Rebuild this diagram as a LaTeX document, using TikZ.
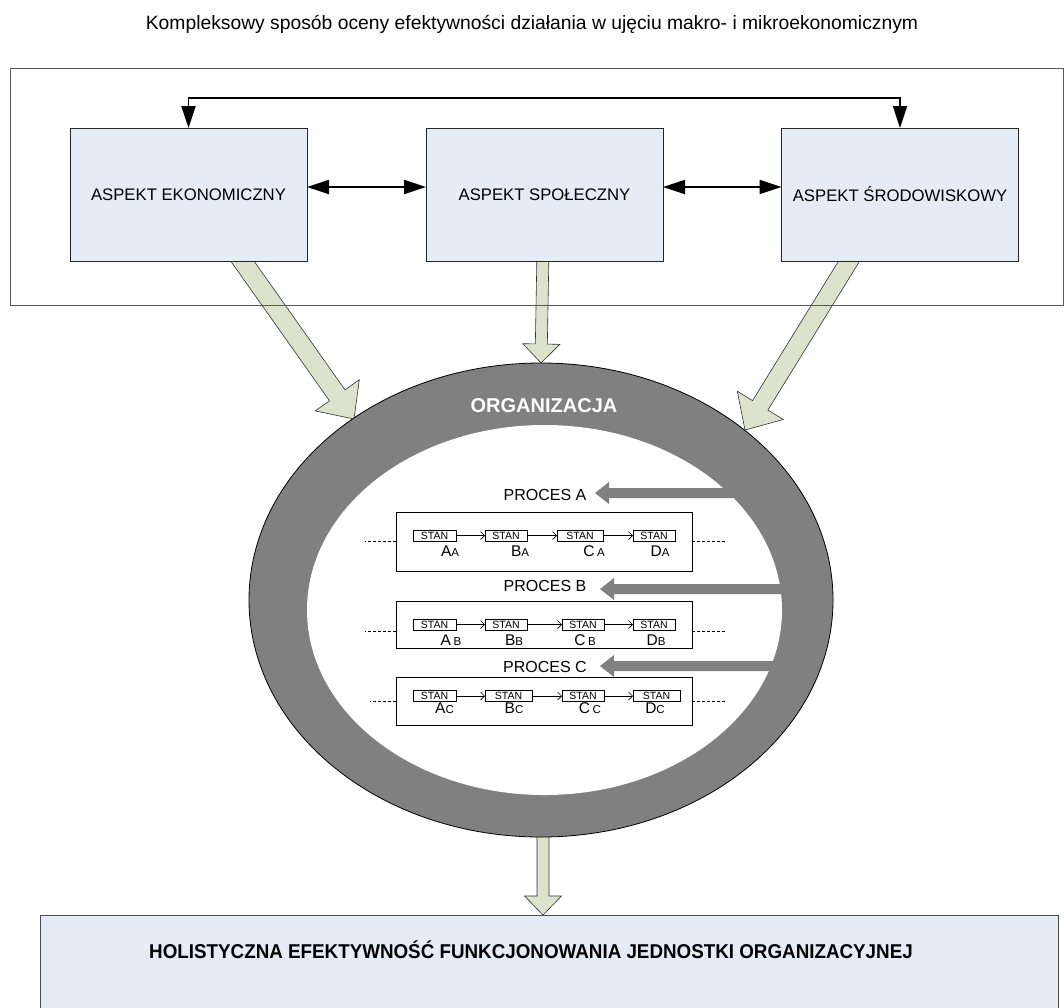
\documentclass[tikz,border=0pt]{standalone}
\usepackage{fontspec}
\setmainfont{Liberation Sans}
\usetikzlibrary{calc,arrows.meta,shapes.geometric}
\pgfdeclarelayer{bg}
\pgfsetlayers{bg,main}
\definecolor{aspfill}{RGB}{229,236,246}
\definecolor{blkfill}{RGB}{221,226,205}
\definecolor{ringgray}{RGB}{128,128,128}
\newcommand\myfs[1]{\fontsize{#1pt}{#1pt}\selectfont}
\newcommand\blockarr[6]{%
  \coordinate (bah) at ($(#3)!#6!(#2)$);
  \path[#1] ($(#2)!#4!90:(#3)$) -- ($(bah)!#4!90:(#3)$) -- ($(bah)!#5!90:(#3)$) -- (#3)
    -- ($(bah)!#5!-90:(#3)$) -- ($(bah)!#4!-90:(#3)$) -- ($(#2)!#4!-90:(#3)$) -- cycle;
}
\tikzset{
  aspect/.style={draw=black!85, line width=0.9pt, fill=aspfill, minimum width=237pt, minimum height=133pt, font=\myfs{16.7}},
  biarrow/.style={line width=1.8pt, {Triangle[length=22pt,width=14pt]}-{Triangle[length=22pt,width=14pt]}},
  greenarr/.style={draw=black!80, line width=0.6pt, fill=blkfill, line join=miter},
  grayarr/.style={fill=ringgray},
  procbox/.style={draw=black, line width=0.9pt, minimum width=296pt},
  stanbox/.style={draw=black, line width=0.8pt, fill=white, minimum height=11pt, font=\myfs{10.5}},
  stanlink/.style={line width=0.7pt, -{Straight Barb[length=4pt,width=8pt]}},
  lbl/.style={font=\myfs{15.5}},
  proclbl/.style={font=\myfs{16}},
  dash line/.style={dash pattern=on 3pt off 2pt, line width=0.7pt},
}
\newcommand\sub[1]{{\myfs{11.5}#1}}
\begin{document}
\begin{tikzpicture}[x=1pt,y=-1pt, every node/.style={inner sep=0pt, outer sep=0pt}]
\useasboundingbox (0,0) rectangle (1064,1007);

\node[font=\myfs{19.3}] (title) at (532,24) {Kompleksowy sposób oceny efektywności działania w ujęciu makro- i mikroekonomicznym};

% top frame
\draw[black!65, line width=0.9pt] (10.5,68.5) rectangle (1063,305);

% aspect boxes
\node[aspect] (eko) at (188.5,194.5) {ASPEKT EKONOMICZNY};
\node[aspect] (spo) at (544.5,194.5) {ASPEKT SPOŁECZNY};
\node[aspect] (sro) at (900,194.5) {ASPEKT ŚRODOWISKOWY};

\draw[biarrow] (eko.north) -- ++(0,-30) -| (sro.north);
\draw[biarrow] ([yshift=7.5pt]eko.east) -- ([yshift=7.5pt]spo.west);
\draw[biarrow] ([yshift=7.5pt]spo.east) -- ([yshift=7.5pt]sro.west);

% organisation ring
\node[ellipse, draw=black, line width=0.8pt, fill=ringgray, minimum width=584pt, minimum height=474pt] (org) at (541,600) {};
\node[ellipse, fill=white, minimum width=475pt, minimum height=370pt] (orgin) at (544.5,610) {};
\node[font=\myfs{20}\bfseries, text=white] (orglbl) at (544,406) {ORGANIZACJA};

% gray process arrows
\coordinate (ga0) at (790,493); \coordinate (ga1) at (595,493);
\blockarr{grayarr}{ga0}{ga1}{5pt}{11pt}{14pt}
\coordinate (gb0) at (800,589); \coordinate (gb1) at (600,589);
\blockarr{grayarr}{gb0}{gb1}{5pt}{11pt}{14pt}
\coordinate (gc0) at (800,666); \coordinate (gc1) at (600,666);
\blockarr{grayarr}{gc0}{gc1}{5pt}{11pt}{14pt}

\node[proclbl] (pA) at (545,495) {PROCES A};
\node[proclbl] (pB) at (545,586) {PROCES B};
\node[proclbl] (pC) at (545,667) {PROCES C};

% process boxes
\node[procbox, minimum height=59pt] (bxA) at (544,541.5) {};
\node[procbox, minimum height=47pt] (bxB) at (544,624.5) {};
\node[procbox, minimum height=48pt] (bxC) at (544,701) {};

% row A
\node[stanbox, minimum width=43pt] (a1) at (434.5,535.5) {STAN};
\node[stanbox, minimum width=42pt] (a2) at (506,535.5) {STAN};
\node[stanbox, minimum width=46pt] (a3) at (580,535.5) {STAN};
\node[stanbox, minimum width=42pt] (a4) at (654,535.5) {STAN};
\draw[stanlink] (a1) -- (a2);
\draw[stanlink] (a2) -- (a3);
\draw[stanlink] (a3) -- (a4);
\node[lbl] (la1) at (450,551) {A\sub{A}};
\node[lbl] (la2) at (520,551) {B\sub{A}};
\node[lbl] (la3) at (594,551) {C\,\sub{A}};
\node[lbl] (la4) at (660,551) {D\sub{A}};
\draw[dash line] (bxA.west) -- ++(-31,0);
\draw[dash line] (bxA.east) -- ++(35,0);

% row B
\node[stanbox, minimum width=43pt] (b1) at (434.5,624.5) {STAN};
\node[stanbox, minimum width=42pt] (b2) at (506,624.5) {STAN};
\node[stanbox, minimum width=42pt] (b3) at (583,624.5) {STAN};
\node[stanbox, minimum width=42pt] (b4) at (654,624.5) {STAN};
\draw[stanlink] (b1) -- (b2);
\draw[stanlink] (b2) -- (b3);
\draw[stanlink] (b3) -- (b4);
\node[lbl] (lb1) at (451,640) {A\,\sub{B}};
\node[lbl] (lb2) at (514,640) {B\sub{B}};
\node[lbl] (lb3) at (585,640) {C\,\sub{B}};
\node[lbl] (lb4) at (656,640) {D\sub{B}};
\draw[dash line] ([yshift=-6.5pt]bxB.west) -- ++(-31,0);
\draw[dash line] ([yshift=-6.5pt]bxB.east) -- ++(33,0);

% row C
\node[stanbox, minimum width=43pt] (c1) at (434.5,696) {STAN};
\node[stanbox, minimum width=47pt] (c2) at (508.5,696) {STAN};
\node[stanbox, minimum width=42pt] (c3) at (583,696) {STAN};
\node[stanbox, minimum width=47pt] (c4) at (656.5,696) {STAN};
\draw[stanlink] (c1) -- (c2);
\draw[stanlink] (c2) -- (c3);
\draw[stanlink] (c3) -- (c4);
\node[lbl] (lc1) at (444.5,708) {A\sub{C}};
\node[lbl] (lc2) at (514,708) {B\sub{C}};
\node[lbl] (lc3) at (590,708) {C\,\sub{C}};
\node[lbl] (lc4) at (655,708) {D\sub{C}};
\draw[dash line] (bxC.west) -- ++(-26,0);
\draw[dash line] (bxC.east) -- ++(33,0);

% bottom box
\node[draw=black!70, line width=0.9pt, fill=aspfill, minimum width=1018pt, minimum height=97pt] (hol) at (549,963.5) {};
\node[font=\myfs{20}\bfseries] (holt) at (531,950) {\scalebox{0.94}[1]{HOLISTYCZNA EFEKTYWNOŚĆ FUNKCJONOWANIA JEDNOSTKI ORGANIZACYJNEJ}};

% green block arrows (behind)
\begin{pgfonlayer}{bg}
\fill[white] (0,0) rectangle (1064,1007);
\coordinate (g1s) at (231,245); \coordinate (g1t) at (354,419);
\blockarr{greenarr}{g1s}{g1t}{9.5pt}{27pt}{29pt}
\coordinate (g2s) at (543,250);
\blockarr{greenarr}{g2s}{org.north}{6pt}{18.5pt}{19pt}
\coordinate (g3s) at (859,245); \coordinate (g3t) at (745,430);
\blockarr{greenarr}{g3s}{g3t}{9pt}{27pt}{29pt}
\coordinate (g4s) at (543,820); \coordinate (g4t) at (g4s |- hol.north);
\blockarr{greenarr}{g4s}{g4t}{6pt}{18.5pt}{19pt}
\end{pgfonlayer}
\end{tikzpicture}
\end{document}
